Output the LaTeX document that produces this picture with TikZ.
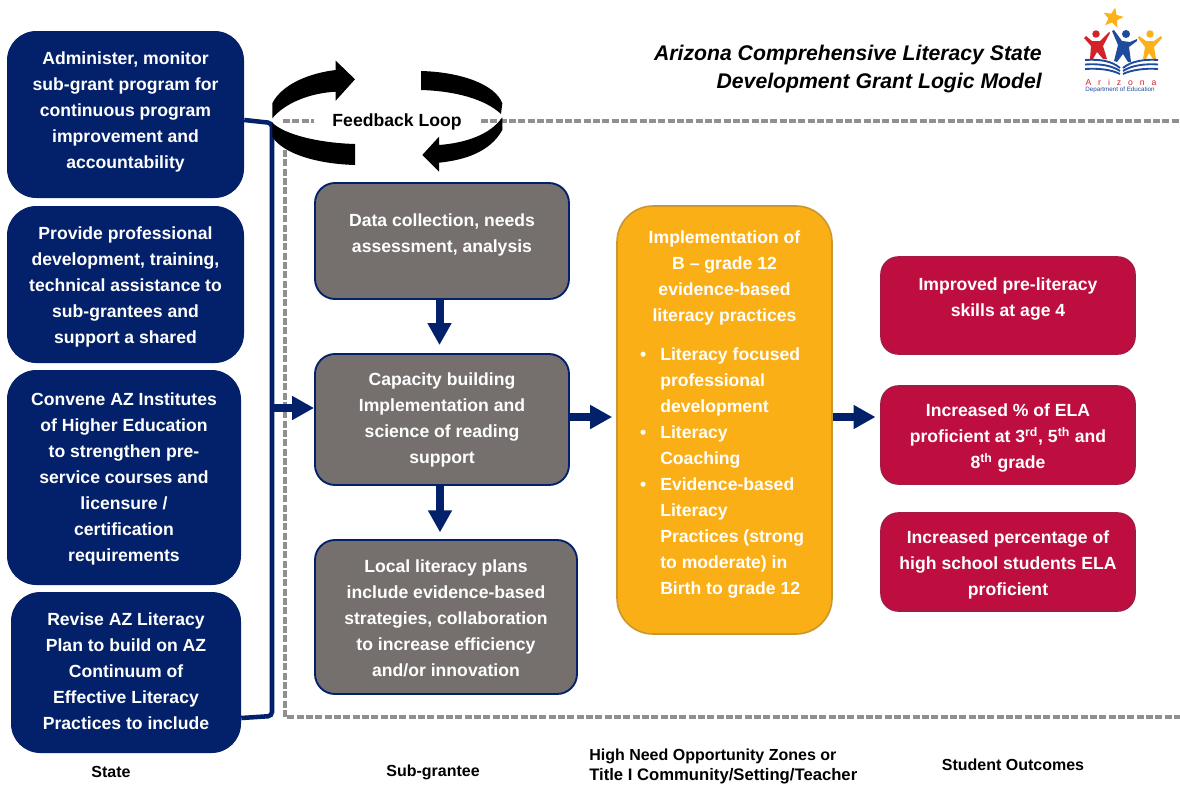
\documentclass[tikz,border=0pt]{standalone}
\usepackage{fontspec}
\setmainfont{Liberation Sans}
\usetikzlibrary{arrows.meta,shapes.geometric}
\definecolor{navy}{HTML}{03216A}
\definecolor{stone}{HTML}{75706E}
\definecolor{amber}{HTML}{FBAF17}
\definecolor{amberedge}{HTML}{C9972F}
\definecolor{crimson}{HTML}{BE0E40}
\definecolor{crimsonedge}{HTML}{A31A45}
\definecolor{dashgrey}{HTML}{909090}
\definecolor{logored}{HTML}{D2232A}
\definecolor{logogold}{HTML}{FBB117}
\definecolor{logoblue}{HTML}{1F4B9C}
\newcommand{\boxfont}{\fontsize{13.2}{19.5}\selectfont\bfseries}
\tikzset{
  x=0.75pt,y=-0.75pt,
  box/.style={rounded corners=#1,inner sep=0pt},
  boxtext/.style={align=center,text=white,font=\boxfont,inner sep=0pt},
  statebox/.style={box=22pt,fill=navy},
  greybox/.style={box=15pt,fill=stone,draw=navy,line width=1.4pt},
  yellowbox/.style={box=27pt,fill=amber,draw=amberedge,line width=1.2pt},
  redbox/.style={box=13pt,fill=crimson,draw=crimsonedge,line width=1.2pt},
  flow/.style={draw=navy,line width=6pt,-{Triangle[length=16.5pt,width=17pt]}},
  bracket/.style={draw=navy,line width=3.4pt},
  loopline/.style={draw=dashgrey,line width=2.3pt,dash pattern=on 5.2pt off 1.8pt},
  caption/.style={font=\fontsize{12}{15}\selectfont\bfseries,inner sep=0pt,text=black},
  heading/.style={font=\fontsize{15.9}{21}\selectfont\bfseries\itshape,align=right,inner sep=0pt,text=black},
}
% name, style, x1, y1, x2, y2, text centre y, text
\newcommand{\placebox}[8]{%
  \node[#2,minimum width=#5*0.75pt-#3*0.75pt,minimum height=#6*0.75pt-#4*0.75pt] (#1) at ({(#3+#5)/2},{(#4+#6)/2}) {};
  \node[boxtext] (#1t) at ({(#3+#5)/2},#7) {#8};}
\begin{document}
\begin{tikzpicture}
\useasboundingbox (0,0) rectangle (1180,785);
\fill[white] (0,0) rectangle (1180,785);

% dashed frame
\coordinate (fa) at (283,121);
\coordinate (fb) at (314,121);
\coordinate (fc) at (481,121);
\coordinate (fd) at (1180,121);
\coordinate (fe) at (285,150);
\coordinate (ff) at (285,717);
\coordinate (fg) at (1180,717);
\draw[loopline] (fa)--(fb);
\draw[loopline] (fc)--(fd);
\draw[loopline] (fe)--(ff)--(fg);

% State column
\placebox{s1}{statebox}{7}{31}{244}{198}{111.5}{Administer, monitor\\sub-grant program for\\continuous program\\improvement and\\accountability}
\placebox{s2}{statebox}{7}{206}{244}{363}{286.5}{Provide professional\\development, training,\\technical assistance to\\sub-grantees and\\support a shared}
\placebox{s3}{statebox}{7}{370}{241}{585}{478.5}{Convene AZ Institutes\\of Higher Education\\to strengthen pre-\\service courses and\\licensure /\\certification\\requirements}
\placebox{s4}{statebox}{11}{592}{241}{753}{671.5}{Revise AZ Literacy\\Plan to build on AZ\\Continuum of\\Effective Literacy\\Practices to include}

% Sub-grantee column
\placebox{g1}{greybox}{315}{183}{569}{299}{235}{Data collection, needs\\assessment, analysis}
\placebox{g2}{greybox}{315}{354}{569}{485}{420}{Capacity building\\Implementation and\\science of reading\\support}
\placebox{g3}{greybox}{315}{540}{577}{694}{618.5}{Local literacy plans\\include evidence-based\\strategies, collaboration\\to increase efficiency\\and/or innovation}

% Yellow box
\placebox{y1}{yellowbox}{617}{206}{832}{634}{278}{Implementation of\\B – grade 12\\evidence-based\\literacy practices}
\node[align=left,text=white,font=\boxfont,inner sep=0pt,anchor=north west] (y1l) at (660,347)
 {\llap{•\hspace{10.5pt}}Literacy focused\\professional\\development\\\llap{•\hspace{10.5pt}}Literacy\\Coaching\\\llap{•\hspace{10.5pt}}Evidence-based\\Literacy\\Practices (strong\\to moderate) in\\Birth to grade 12};

% Red boxes
\placebox{r1}{redbox}{881}{257}{1135}{354}{299}{Improved pre-literacy\\skills at age 4}
\placebox{r2}{redbox}{881}{386}{1135}{484}{438}{Increased \% of ELA\\proficient at 3\textsuperscript{rd}, 5\textsuperscript{th} and\\8\textsuperscript{th} grade}
\placebox{r3}{redbox}{881}{513}{1135}{611}{565}{Increased percentage of\\high school students ELA\\proficient}

% Bracket
\coordinate (bt) at (272,123);
\coordinate (bb) at (272,716);
\coordinate (bm) at (272,408);
\draw[bracket,rounded corners=3pt] (s1.east |- 0,120) -- (bt) -- (bb) -- (s4.east |- 0,718);

% flows
\draw[flow] (bm) -- (g2.west |- bm);
\draw[flow,shorten >=6pt] (g1.south -| 439.5,0) -- (g2.north -| 439.5,0);
\draw[flow,shorten >=5pt] (g2.south -| 440,0) -- (g3.north -| 440,0);
\draw[flow,shorten >=3pt] (g2.east |- 0,417) -- (y1.west |- 0,417);
\draw[flow,shorten >=3.5pt] (y1.east |- 0,417) -- (r2.west |- 0,417);

% feedback arrows
\fill[black] (272.3,118.3) -- (272.3,103.3) .. controls (282,84) and (310,73) .. (335.7,70) -- (335.7,60.7) -- (355,79.3) -- (335.7,100.7) -- (335.7,91.7) .. controls (310,93) and (285,103) .. cycle;
\fill[black] (272.3,122.7) -- (272.3,136.7) .. controls (284,155) and (320,164) .. (355,165) -- (355,144) .. controls (320,143) and (285,135) .. cycle;
\fill[black] (421,71) -- (421,90) .. controls (455,91) and (485,99) .. (501,114) -- (502.3,103.3) .. controls (495,84) and (460,72) .. cycle;
\fill[black] (502.3,117.3) -- (502.3,130) .. controls (490,152) and (465,160) .. (439,162.7) -- (439,171.7) -- (422.3,155) -- (439,136.7) -- (439,145) .. controls (465,143) and (490,135) .. cycle;
\node[caption,font=\fontsize{13.2}{16}\selectfont\bfseries] (fl) at (397,121.5) {Feedback Loop};

% Title
\node[heading,anchor=north east] (title) at (1042,45) {Arizona Comprehensive Literacy State\\Development Grant Logic Model};

% Captions
\node[caption] (c1) at (111,772) {State};
\node[caption] (c2) at (433,772) {Sub-grantee};
\node[caption,align=left,anchor=north west] (c3) at (589,749) {High Need Opportunity Zones or\\{\fontsize{12.5}{15}\selectfont Title I Community/Setting/Teacher}};
\node[caption] (c4) at (1013,765) {Student Outcomes};

% Logo
\node[star,star points=5,star point ratio=2.3,fill=logogold,minimum size=16pt,inner sep=0pt,rotate=-12] (lstar) at (1113,18) {};
% red figure
\fill[logored] (1096,34) circle (2.8pt);
\fill[logored] (1084,38) -- (1086,36) -- (1092,41) -- (1100,41) -- (1109,32) -- (1110,33) -- (1103,46) -- (1107,59) -- (1103,59) -- (1097,52) -- (1093,59) -- (1090,59) -- (1091,46) -- cycle;
% blue figure
\fill[logoblue] (1126,34) circle (3pt);
\fill[logoblue] (1112,31) -- (1114,30) -- (1122,41) -- (1130,42) -- (1137,39) -- (1137,41) -- (1129,47) -- (1131,62) -- (1128,62) -- (1123,54) -- (1117,62) -- (1114,61) -- (1118,45) -- cycle;
% gold figure
\fill[logogold] (1150,34) circle (2.8pt);
\fill[logogold] (1138,38) -- (1139,36) -- (1146,41) -- (1154,41) -- (1161,36) -- (1162,38) -- (1154,47) -- (1156,59) -- (1153,59) -- (1149,53) -- (1146,59) -- (1143,59) -- (1145,47) -- cycle;
% book
\foreach \yy/\ye in {60/68,64.5/71,69/74}{
  \draw[logoblue,line width=1.4pt] (1085,\yy) .. controls (1100,\yy-1) and (1112,\yy+1) .. (1120,\ye);
  \draw[logoblue,line width=1.4pt] (1158,\yy) .. controls (1145,\yy-1) and (1131,\yy+1) .. (1123,\ye);
}
\node[inner sep=0pt,text=logored,font=\fontsize{6.5}{7}\selectfont] (la) at (1121,82) {A\hspace{5.2pt}r\hspace{5.2pt}i\hspace{5.2pt}z\hspace{5.2pt}o\hspace{5.2pt}n\hspace{5.2pt}a};
\node[inner sep=0pt,text=logoblue,font=\fontsize{4.7}{5}\selectfont] (ld) at (1120,90) {Department of Education};
\end{tikzpicture}
\end{document}
